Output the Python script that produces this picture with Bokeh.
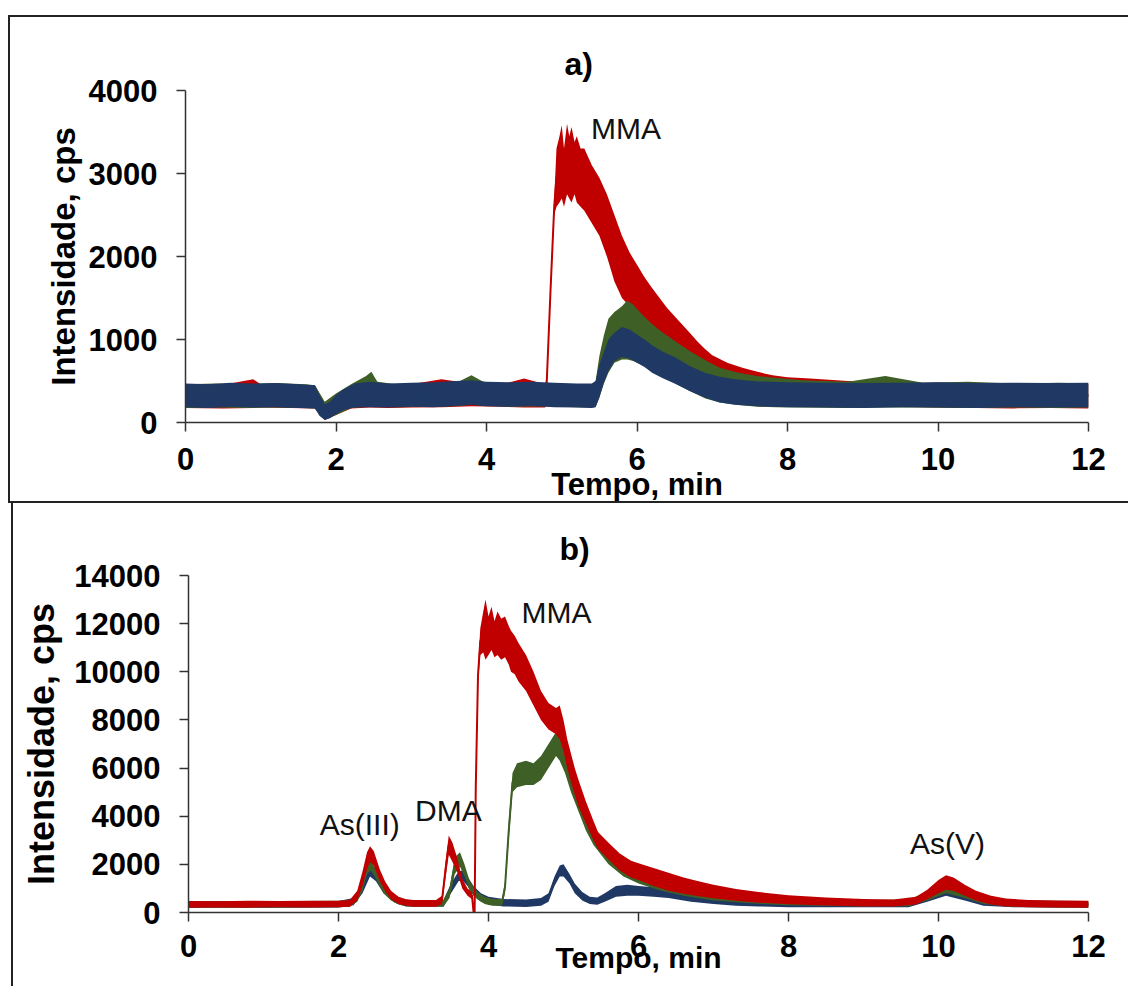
from bokeh.plotting import figure
from bokeh.layouts import column
from bokeh.models import Range1d, FixedTicker, Label, ColumnDataSource
from bokeh.embed import file_html
from bokeh.resources import INLINE

# ---------------- data ----------------
x_ticks = [0, 2, 4, 6, 8, 10, 12]
y_ticks_a = [0, 1000, 2000, 3000, 4000]
y_ticks_b = [0, 2000, 4000, 6000, 8000, 10000, 12000, 14000]

# panel a) : time (min), lower / upper envelope of the noisy trace (cps)
t_a_red = [0.0, 0.5, 0.9, 1.0, 1.4, 1.72, 1.85, 2.0, 2.2, 2.45, 2.7, 3.0, 3.4, 3.8, 4.2, 4.5, 4.78, 4.8, 4.85, 4.9, 4.93, 4.97, 5.0, 5.03, 5.07, 5.1, 5.13, 5.17, 5.2, 5.25, 5.3, 5.4, 5.5, 5.6, 5.7, 5.8, 5.9, 6.0, 6.1, 6.2, 6.3, 6.4, 6.5, 6.6, 6.7, 6.8, 6.9, 7.0, 7.2, 7.4, 7.6, 7.8, 8.0, 8.3, 8.8, 9.5, 10.0, 10.5, 11.0, 11.5, 12.0]
a_red_lo = [175, 170, 175, 180, 175, 170, 30, 90, 170, 180, 175, 180, 185, 195, 190, 180, 180, 400, 1500, 2500, 2600, 2650, 2700, 2600, 2750, 2700, 2650, 2750, 2650, 2600, 2550, 2400, 2250, 2000, 1700, 1500, 1400, 1300, 1210, 1130, 1050, 970, 900, 820, 750, 680, 620, 560, 480, 420, 370, 330, 300, 260, 220, 190, 180, 175, 170, 175, 170]
a_red_hi = [460, 455, 520, 460, 455, 445, 240, 340, 450, 470, 455, 460, 520, 470, 460, 530, 460, 550, 1650, 2700, 3300, 3450, 3580, 3300, 3600, 3450, 3560, 3380, 3450, 3300, 3300, 3100, 2950, 2750, 2500, 2250, 2050, 1900, 1750, 1620, 1500, 1380, 1280, 1180, 1080, 980, 890, 810, 720, 660, 610, 570, 545, 530, 500, 470, 480, 460, 470, 460, 460]

t_a_green = [0.0, 0.4, 0.8, 1.2, 1.6, 1.72, 1.85, 2.0, 2.2, 2.4, 2.47, 2.55, 2.8, 3.2, 3.6, 3.8, 4.0, 4.4, 4.8, 5.2, 5.4, 5.45, 5.5, 5.56, 5.62, 5.7, 5.8, 5.87, 5.95, 6.05, 6.17, 6.3, 6.49, 6.7, 6.91, 7.1, 7.35, 7.6, 7.84, 8.2, 8.8, 9.3, 9.8, 10.4, 11.0, 11.6, 12.0]
a_green_lo = [175, 180, 175, 180, 175, 170, 40, 90, 175, 190, 200, 190, 185, 190, 200, 215, 200, 190, 195, 185, 180, 190, 300, 470, 600, 720, 760, 760, 740, 700, 640, 580, 480, 380, 290, 240, 210, 190, 185, 180, 175, 180, 180, 175, 180, 175, 180]
a_green_hi = [460, 470, 460, 475, 460, 450, 250, 350, 460, 560, 610, 490, 460, 470, 480, 570, 470, 460, 470, 460, 460, 500, 800, 1050, 1250, 1330, 1400, 1470, 1420, 1320, 1210, 1110, 990, 860, 750, 660, 600, 560, 540, 510, 490, 560, 480, 490, 470, 480, 470]

t_a_blue = [0.0, 0.3, 0.6, 0.9, 1.2, 1.5, 1.72, 1.78, 1.85, 1.92, 2.0, 2.1, 2.25, 2.45, 2.7, 3.0, 3.3, 3.6, 3.8, 4.0, 4.3, 4.6, 4.9, 5.2, 5.4, 5.45, 5.5, 5.56, 5.62, 5.7, 5.8, 5.9, 6.0, 6.1, 6.2, 6.35, 6.5, 6.7, 6.9, 7.1, 7.3, 7.6, 8.0, 8.5, 9.0, 9.5, 10.0, 10.5, 11.0, 11.5, 12.0]
a_blue_lo = [185, 175, 190, 180, 185, 175, 170, 80, 30, 50, 100, 150, 180, 185, 180, 190, 185, 200, 215, 195, 190, 200, 185, 180, 175, 185, 300, 480, 620, 740, 790, 770, 720, 670, 600, 530, 470, 380, 300, 240, 215, 195, 185, 180, 175, 185, 180, 175, 185, 180, 185]
a_blue_hi = [470, 460, 480, 470, 475, 460, 450, 330, 220, 250, 330, 400, 470, 490, 470, 480, 485, 500, 510, 490, 485, 490, 480, 470, 470, 500, 700, 850, 1000, 1080, 1150, 1120, 1060, 1000, 930, 850, 790, 680, 600, 550, 520, 495, 485, 480, 475, 480, 485, 475, 480, 475, 480]

# panel b)
t_b_red = [0.0, 0.4, 0.8, 1.2, 1.6, 2.0, 2.15, 2.25, 2.32, 2.38, 2.42, 2.47, 2.55, 2.62, 2.7, 2.8, 2.9, 3.0, 3.3, 3.38, 3.43, 3.47, 3.52, 3.58, 3.65, 3.72, 3.78, 3.80, 3.815, 3.83, 3.86,
           3.89, 3.93, 3.96, 4.0, 4.04, 4.08, 4.12, 4.17, 4.22, 4.27, 4.3, 4.35, 4.4, 4.5,
           4.6, 4.7, 4.8, 4.9, 4.95, 5.0, 5.05, 5.1, 5.15, 5.2, 5.3, 5.4, 5.46, 5.6, 5.75, 5.9, 6.0, 6.2, 6.4, 6.6, 6.8, 7.0, 7.3, 7.6, 8.0, 8.5, 9.0, 9.4, 9.7, 9.85, 10.0, 10.1, 10.2, 10.35, 10.5, 10.7, 10.9, 11.2, 11.6, 12.0]
b_red_lo = [200, 210, 200, 215, 205, 220, 240, 500, 1100, 1800, 2100, 1950, 1300, 900, 550, 350, 280, 240, 240, 350, 1500, 2400, 2100, 1700, 1000, 700, 550, 0, 0, 5000, 9500,
            10700, 10800, 10500, 10700, 10900, 10600, 10700, 10500, 10600, 10300, 10000, 9900, 9600, 9200,
            8600, 8000, 7600, 7400, 7200, 6700, 6000, 5400, 4900, 4400, 3700, 3000, 2650, 2200, 1750, 1450, 1350, 1100, 900, 780, 680, 590, 490, 410, 340, 290, 250, 250, 330, 550, 800, 950, 900, 700, 500, 330, 250, 220, 210, 200]
b_red_hi = [480, 470, 490, 480, 485, 490, 520, 900, 1700, 2500, 2750, 2550, 1800, 1300, 900, 650, 550, 520, 520, 700, 2200, 3200, 2900, 2300, 1400, 1000, 850, 60, 60, 5300, 10200,
            11800, 12500, 13000, 12300, 12700, 12100, 12500, 12200, 12300, 11900, 11700, 11500, 11200, 10700,
            10000, 9200, 8700, 8500, 8600, 8000, 7200, 6600, 6000, 5500, 4600, 3800, 3340, 2900, 2450, 2150, 2050, 1850, 1650, 1450, 1300, 1150, 980, 850, 720, 620, 560, 540, 650, 950, 1350, 1550, 1450, 1150, 900, 700, 580, 520, 500, 490]

t_b_green = [0.0, 0.5, 1.0, 1.5, 2.0, 2.15, 2.25, 2.32, 2.38, 2.43, 2.5, 2.6, 2.7, 2.8, 2.9, 3.0, 3.4, 3.48, 3.55, 3.62, 3.68, 3.75, 3.85, 3.95, 4.05, 4.18, 4.22, 4.27, 4.32, 4.38, 4.5, 4.6, 4.7, 4.8, 4.9, 4.95, 5.02, 5.1, 5.2, 5.3, 5.4, 5.6, 5.8, 6.0, 6.3, 6.6, 7.0, 7.5, 8.0, 9.0, 9.6, 9.85, 10.1, 10.35, 10.6, 10.9, 11.5, 12.0]
b_green_lo = [200, 210, 200, 210, 220, 240, 450, 900, 1600, 1750, 1400, 800, 500, 330, 260, 240, 250, 600, 1600, 1900, 1500, 900, 550, 350, 280, 280, 800, 3000, 5000, 5200, 5300, 5300, 5500, 6000, 6500, 6300, 5800, 5000, 4200, 3400, 2800, 2000, 1500, 1200, 900, 700, 500, 380, 300, 250, 260, 500, 800, 600, 350, 250, 210, 200]
b_green_hi = [470, 480, 470, 480, 490, 520, 800, 1400, 2100, 2150, 1800, 1200, 800, 620, 540, 500, 520, 1000, 2300, 2500, 2000, 1300, 850, 650, 560, 560, 1300, 3800, 5800, 6200, 6300, 6200, 6500, 7000, 7500, 7300, 6600, 5900, 5200, 4300, 3500, 2600, 2100, 1700, 1350, 1100, 850, 700, 600, 520, 540, 850, 1200, 950, 650, 530, 490, 480]

t_b_blue = [0.0, 1.0, 2.0, 2.2, 2.32, 2.42, 2.5, 2.6, 2.75, 2.9, 3.4, 3.5, 3.6, 3.65, 3.72, 3.8, 3.9, 4.0, 4.2, 4.5, 4.7, 4.8, 4.88, 4.95, 5.0, 5.08, 5.15, 5.25, 5.35, 5.45, 5.55, 5.7, 5.85, 6.0, 6.2, 6.4, 6.7, 7.0, 7.3, 7.6, 8.0, 9.6, 9.85, 10.1, 10.35, 10.6, 11.0, 12.0]
b_blue_lo = [200, 200, 210, 300, 800, 1500, 1300, 800, 400, 250, 240, 800, 1300, 1350, 1100, 700, 450, 330, 250, 230, 280, 450, 1100, 1500, 1500, 1200, 800, 500, 350, 320, 450, 650, 700, 700, 650, 600, 450, 350, 280, 250, 220, 220, 450, 700, 500, 280, 220, 200]
b_blue_hi = [470, 470, 480, 600, 1200, 1900, 1700, 1200, 700, 520, 520, 1200, 1700, 1750, 1500, 1100, 800, 650, 560, 540, 600, 800, 1500, 1950, 2000, 1600, 1200, 850, 650, 620, 800, 1100, 1150, 1100, 1050, 950, 850, 700, 600, 520, 480, 500, 750, 1000, 800, 550, 480, 470]

RED = "#C00000"
GREEN = "#3E5F26"
BLUE = "#1F3864"
FONT = "Liberation Sans"


def trace(p, t, lo, hi, color):
    mid = [(a + b) / 2.0 for a, b in zip(lo, hi)]
    src = ColumnDataSource(dict(t=t, lo=lo, hi=hi, mid=mid))
    p.varea(x="t", y1="lo", y2="hi", source=src, fill_color=color, fill_alpha=1.0)
    p.line(x="t", y="mid", source=src, line_color=color, line_width=2)


def style(p, yticks, title_offset, ylab_standoff, ylab_size, xtick_standoff, xlab_standoff, xlab_size):
    p.xgrid.visible = False
    p.ygrid.visible = False
    p.outline_line_color = None
    p.background_fill_color = "white"
    p.border_fill_color = "white"
    p.title.text_font = FONT
    p.title.text_font_size = "32px"
    p.title.text_font_style = "bold"
    p.title.text_color = "black"
    p.title.align = "left"
    p.title.offset = title_offset
    p.title.standoff = 17
    for ax, ticks in ((p.xaxis[0], x_ticks), (p.yaxis[0], yticks)):
        ax.ticker = FixedTicker(ticks=ticks)
        ax.axis_line_color = "#333333"
        ax.axis_line_width = 1.5
        ax.major_tick_line_color = "#333333"
        ax.major_tick_line_width = 1.5
        ax.major_tick_in = 0
        ax.major_tick_out = 9
        ax.minor_tick_in = 0
        ax.minor_tick_out = 0
        ax.major_label_text_font = FONT
        ax.major_label_text_font_style = "bold"
        ax.major_label_text_font_size = "31px"
        ax.major_label_text_color = "black"
        ax.axis_label_text_font = FONT
        ax.axis_label_text_font_style = "bold"
        ax.axis_label_text_color = "black"
    p.xaxis[0].axis_label = "Tempo, min"
    p.xaxis[0].axis_label_text_font_size = xlab_size
    p.xaxis[0].major_label_standoff = xtick_standoff
    p.xaxis[0].axis_label_standoff = xlab_standoff
    p.yaxis[0].axis_label = "Intensidade, cps"
    p.yaxis[0].axis_label_text_font_size = ylab_size
    p.yaxis[0].major_label_standoff = 19
    p.yaxis[0].axis_label_standoff = ylab_standoff


def note(p, x, y, text):
    p.add_layout(Label(x=x, y=y, text=text, text_font=FONT, text_font_size="30px",
                       text_color="#111111", text_baseline="middle", text_align="left"))


# ---------------- panel a ----------------
pa = figure(width=1120, height=488, x_range=Range1d(0, 12), y_range=Range1d(0, 4000),
            output_backend="svg", toolbar_location=None, title="a)",
            min_border_left=170, min_border_right=42, min_border_top=73, min_border_bottom=83,
            margin=(15, 0, 0, 8),
            styles={"border-top": "2px solid #222", "border-left": "2px solid #222",
                    "border-bottom": "2px solid #222"})
style(pa, y_ticks_a, 379, 4, "33px", 16, -6, "31px")
trace(pa, t_a_red, a_red_lo, a_red_hi, RED)
trace(pa, t_a_green, a_green_lo, a_green_hi, GREEN)
trace(pa, t_a_blue, a_blue_lo, a_blue_hi, BLUE)
note(pa, 5.39, 3540, "MMA")

# ---------------- panel b ----------------
pb = figure(width=1117, height=483, x_range=Range1d(0, 12), y_range=Range1d(0, 14000),
            output_backend="svg", toolbar_location=None, title="b)",
            min_border_left=175, min_border_right=30, min_border_top=72, min_border_bottom=74,
            margin=(0, 0, 0, 11),
            styles={"border-left": "2px solid #222"})
style(pb, y_ticks_b, 371, 9, "36px", 13, -19, "30px")
trace(pb, t_b_blue, b_blue_lo, b_blue_hi, BLUE)
trace(pb, t_b_green, b_green_lo, b_green_hi, GREEN)
trace(pb, t_b_red, b_red_lo, b_red_hi, RED)
note(pb, 4.44, 12460, "MMA")
note(pb, 1.75, 3660, "As(III)")
note(pb, 3.02, 4240, "DMA")
note(pb, 9.62, 2870, "As(V)")

layout = column(pa, pb, spacing=0)
open("out.html", "w").write(file_html(layout, INLINE))
